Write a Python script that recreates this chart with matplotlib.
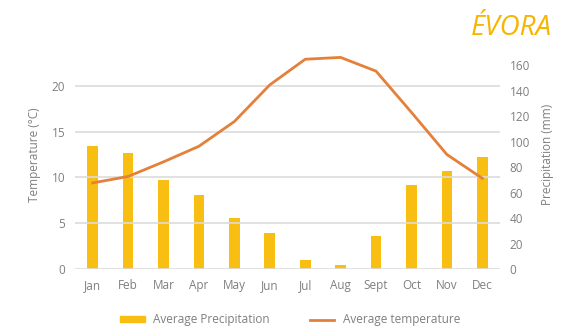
import matplotlib.pyplot as plt
import numpy as np
from matplotlib.patches import Patch
from matplotlib.lines import Line2D

months = ["Jan", "Feb", "Mar", "Apr", "May", "Jun", "Jul", "Aug", "Sept", "Oct", "Nov", "Dec"]
precipitation_mm = [97, 91, 70, 58, 40, 28, 7, 3, 26, 66, 77, 88]
temperature_c = [9.4, 10.1, 11.7, 13.4, 16.1, 20.1, 22.9, 23.1, 21.6, 17.1, 12.5, 9.9]
temp_ticks = [0, 5, 10, 15, 20]
precip_ticks = [0, 20, 40, 60, 80, 100, 120, 140, 160]

bar_color = "#F9BE12"
line_color = "#E5803A"
text_color = "#7F7F7F"
grid_color = "#DCDCDC"
fs = 8.5

plt.rcParams["font.family"] = ["Open Sans", "DejaVu Sans"]

fig = plt.figure(figsize=(5.61, 3.32), dpi=100)
ax = fig.add_axes([75 / 561, 1 - 269 / 332, 425 / 561, (269 - 40) / 332])
ax2 = ax.twinx()

x = np.arange(len(months))

# precipitation bars on the right axis
ax2.bar(x, precipitation_mm, width=0.3, color=bar_color, zorder=2)
ax2.set_ylim(0, 180)
ax2.set_yticks(precip_ticks)

# temperature line on the left axis
ax.plot(x, temperature_c, color=line_color, lw=2, zorder=3)
ax.set_ylim(0, 25)
ax.set_yticks(temp_ticks)
ax.yaxis.grid(True, color=grid_color, lw=1.2)
ax.set_axisbelow(True)
ax.set_xlim(-0.5, len(months) - 0.5)
ax.set_xticks(x)
ax.set_xticklabels(months)

ax.set_zorder(ax2.get_zorder() + 1)
ax.patch.set_visible(False)

for a in (ax, ax2):
    for s in a.spines.values():
        s.set_visible(False)
    a.tick_params(length=0, labelsize=fs, colors=text_color, pad=7)

ax.set_ylabel("Temperature (°C)", fontsize=fs, color=text_color, labelpad=8)
ax2.set_ylabel("Precipitation (mm)", fontsize=fs, color=text_color, labelpad=8)

# legend below the plot
handles = [Patch(color=bar_color, label="Average Precipitation"),
           Line2D([0], [0], color=line_color, lw=2, label="Average temperature")]
leg = fig.legend(handles=handles, loc="center", bbox_to_anchor=(290 / 561, 1 - 320 / 332),
                 ncol=2, frameon=False, fontsize=fs, handlelength=2.1, handleheight=0.45,
                 handletextpad=0.7, columnspacing=3.4)
for t in leg.get_texts():
    t.set_color(text_color)

fig.text(552 / 561, 1 - 28 / 332, "ÉVORA", ha="right", va="center", fontsize=20,
         color="#F7B500", style="italic", family=["Open Sans", "DejaVu Sans"])

fig.savefig("out.png", dpi=100)
